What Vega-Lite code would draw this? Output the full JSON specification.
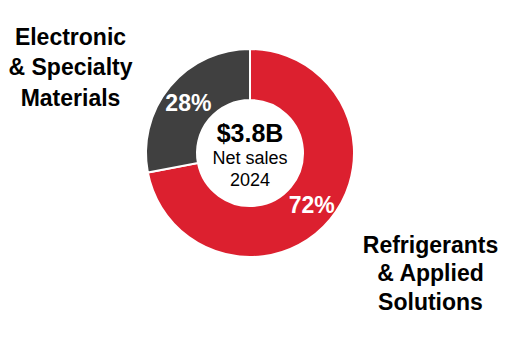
{
  "$schema": "https://vega.github.io/schema/vega-lite/v6.json",
  "width": 500,
  "height": 306,
  "autosize": {"type": "none"},
  "padding": {"left": 0, "top": 0, "right": 12, "bottom": 56},
  "background": "white",
  "config": {"view": {"stroke": null}, "text": {"font": "Liberation Sans"}},
  "datasets": {
    "segments": [
      {"segment": "Refrigerants & Applied Solutions", "share": 0.72, "rank": 1},
      {"segment": "Electronic & Specialty Materials", "share": 0.28, "rank": 2}
    ]
  },
  "layer": [
    {
      "data": {"name": "segments"},
      "mark": {"type": "arc", "outerRadius": 104, "innerRadius": 53, "stroke": "white", "strokeWidth": 2},
      "encoding": {
        "theta": {"field": "share", "type": "quantitative", "stack": true},
        "order": {"field": "rank", "type": "quantitative"},
        "color": {
          "field": "segment",
          "type": "nominal",
          "scale": {"domain": ["Refrigerants & Applied Solutions", "Electronic & Specialty Materials"], "range": ["#DC202F", "#404040"]},
          "legend": null
        }
      }
    },
    {
      "data": {"name": "segments"},
      "mark": {"type": "text", "radius": 80, "dy": 2, "fontSize": 23, "fontWeight": "bold", "fill": "white"},
      "encoding": {
        "theta": {"field": "share", "type": "quantitative", "stack": true},
        "order": {"field": "rank", "type": "quantitative"},
        "text": {"field": "share", "type": "quantitative", "format": ".0%"}
      }
    },
    {
      "data": {"values": [{"label": "$3.8B"}]},
      "mark": {"type": "text", "dy": -19.5, "fontSize": 25, "fontWeight": "bold", "fill": "black"},
      "encoding": {"text": {"field": "label", "type": "nominal"}}
    },
    {
      "data": {"values": [{"label": "Net sales\n2024"}]},
      "mark": {"type": "text", "dy": 6, "fontSize": 18, "lineHeight": 21.5, "lineBreak": "\n", "fill": "black"},
      "encoding": {"text": {"field": "label", "type": "nominal"}}
    },
    {
      "data": {"values": [{"label": "Electronic\n& Specialty\nMaterials"}]},
      "mark": {"type": "text", "dx": -179.5, "dy": -115.5, "fontSize": 23, "fontWeight": "bold", "lineHeight": 30.5, "lineBreak": "\n", "fill": "black"},
      "encoding": {"text": {"field": "label", "type": "nominal"}}
    },
    {
      "data": {"values": [{"label": "Refrigerants\n& Applied\nSolutions"}]},
      "mark": {"type": "text", "dx": 180.5, "dy": 92.5, "fontSize": 23, "fontWeight": "bold", "lineHeight": 28.5, "lineBreak": "\n", "fill": "black"},
      "encoding": {"text": {"field": "label", "type": "nominal"}}
    }
  ]
}
